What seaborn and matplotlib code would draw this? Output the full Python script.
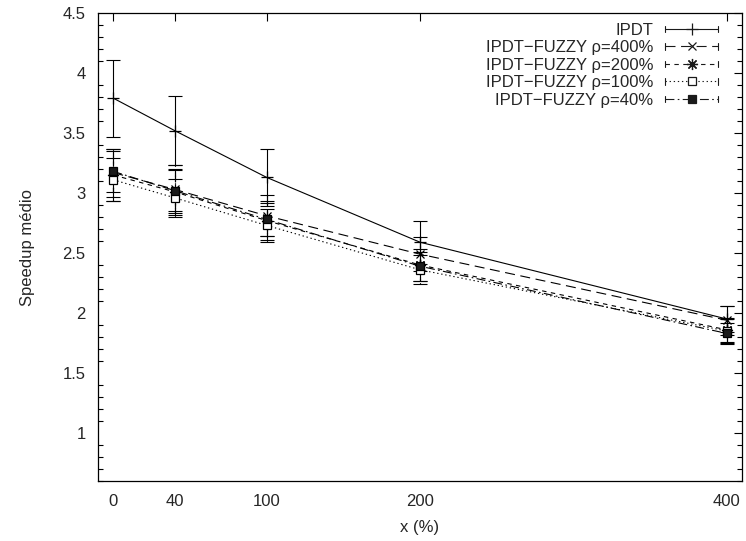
import matplotlib
matplotlib.use("Agg")
import numpy as np
import pandas as pd
import matplotlib.pyplot as plt
import seaborn as sns
from matplotlib.lines import Line2D
from matplotlib.legend_handler import HandlerBase
from matplotlib.ticker import MultipleLocator, FixedLocator

# ---- data ----
x_vals = [0, 40, 100, 200, 400]
x_labels = ["0", "40", "100", "200", "400"]
series_names = ["IPDT", "IPDT\u2212FUZZY \u03c1=400%", "IPDT\u2212FUZZY \u03c1=200%",
                "IPDT\u2212FUZZY \u03c1=100%", "IPDT\u2212FUZZY \u03c1=40%"]
ipdt = [3.79, 3.52, 3.13, 2.59, 1.95]
ipdt_err = [0.32, 0.29, 0.24, 0.18, 0.11]
fz400 = [3.17, 3.03, 2.81, 2.49, 1.94]
fz400_err = [0.20, 0.20, 0.17, 0.14, 0.12]
fz200 = [3.15, 3.01, 2.77, 2.40, 1.86]
fz200_err = [0.22, 0.19, 0.16, 0.13, 0.10]
fz100 = [3.11, 2.96, 2.73, 2.36, 1.85]
fz100_err = [0.18, 0.16, 0.14, 0.12, 0.10]
fz40 = [3.18, 3.02, 2.78, 2.39, 1.83]
fz40_err = [0.17, 0.17, 0.14, 0.12, 0.09]
y_ticks = [1, 1.5, 2, 2.5, 3, 3.5, 4, 4.5]
y_labels = ["1", "1.5", "2", "2.5", "3", "3.5", "4", "4.5"]

values = [ipdt, fz400, fz200, fz100, fz40]
errors = [ipdt_err, fz400_err, fz200_err, fz100_err, fz40_err]

rows = []
for name, ys, es in zip(series_names, values, errors):
    for xv, yv, ev in zip(x_vals, ys, es):
        rows.append({"x": xv, "speedup": yv, "err": ev, "series": name})
df = pd.DataFrame(rows)

# ---- styles ----
LW = 0.8
FS = 12
styles = [
    dict(ls="-", marker="+", mfc="k", ms=8),
    dict(ls=(0, (9, 5)), marker="x", mfc="k", ms=6),
    dict(ls=(0, (4, 4)), marker=(8, 2, 0), mfc="k", ms=8),
    dict(ls=(0, (1.2, 2.5)), marker="s", mfc="white", ms=6),
    dict(ls=(0, (8, 3, 1.5, 3)), marker="s", mfc="k", ms=6),
]

sns.set_theme(style="white")
plt.rcParams["font.family"] = ["Liberation Sans", "DejaVu Sans"]
plt.rcParams["axes.linewidth"] = 0.9
plt.rcParams["axes.edgecolor"] = "black"

fig = plt.figure(figsize=(7.46, 5.41), dpi=100)
ax = fig.add_axes([98 / 746, 1 - 481 / 541, (742 - 98) / 746, (481 - 13) / 541])

for name, st in zip(series_names, styles):
    sub = df[df["series"] == name]
    sns.lineplot(data=sub, x="x", y="speedup", ax=ax, color="black", lw=LW,
                 linestyle=st["ls"], marker=st["marker"], markersize=st["ms"],
                 markerfacecolor=st["mfc"], markeredgecolor="black",
                 markeredgewidth=0.9, errorbar=None, legend=False, zorder=3)
    cont = ax.errorbar(sub["x"], sub["speedup"], yerr=sub["err"], fmt="none",
                       ecolor="black", elinewidth=LW, capsize=5, capthick=LW,
                       zorder=2)
    for lc in cont[2]:
        lc.set_linestyle(st["ls"])

ax.set_xlim(-10, 410)
ax.set_ylim(0.6, 4.5)
ax.xaxis.set_major_locator(FixedLocator(x_vals))
ax.set_xticklabels(x_labels)
ax.yaxis.set_major_locator(FixedLocator(y_ticks))
ax.set_yticklabels(y_labels)
ax.yaxis.set_minor_locator(MultipleLocator(0.1))
ax.tick_params(axis="both", which="major", direction="in", length=6, width=0.8,
               top=True, right=True, labelsize=FS, color="black")
ax.tick_params(axis="y", which="minor", direction="in", length=3.5, width=0.8,
               left=True, right=True, color="black")
ax.tick_params(axis="y", which="major", pad=9)
ax.tick_params(axis="x", which="major", pad=9)
for s in ax.spines.values():
    s.set_visible(True)
    s.set_color("black")

ax.set_xlabel("x (%)", fontsize=FS, labelpad=8)
ax.set_ylabel("Speedup m\u00e9dio", fontsize=FS, labelpad=20)


class ErrHandler(HandlerBase):
    def create_artists(self, legend, orig_handle, xdescent, ydescent, width,
                       height, fontsize, trans):
        y = height / 2 - ydescent
        x0 = -xdescent
        x1 = width - xdescent
        line = Line2D([x0, x1], [y, y], color="k", lw=LW)
        line.set_linestyle(orig_handle._style_ls)
        mk = Line2D([(x0 + x1) / 2], [y], marker=orig_handle.get_marker(),
                    markersize=orig_handle.get_markersize(),
                    markerfacecolor=orig_handle.get_markerfacecolor(),
                    markeredgecolor="k", markeredgewidth=0.9, linestyle="none")
        c1 = Line2D([x0, x0], [y - 2.5, y + 2.5], color="k", lw=LW)
        c2 = Line2D([x1, x1], [y - 2.5, y + 2.5], color="k", lw=LW)
        arts = [line, c1, c2, mk]
        for a in arts:
            a.set_transform(trans)
        return arts


handles = []
for st in styles:
    h = Line2D([], [], color="k", marker=st["marker"], markersize=st["ms"],
               markerfacecolor=st["mfc"])
    h._style_ls = st["ls"]
    handles.append(h)

leg = ax.legend(handles, series_names, loc="upper right",
                bbox_to_anchor=(0.963, 0.979), frameon=False, markerfirst=False,
                fontsize=FS, handlelength=3.2, handletextpad=0.7,
                labelspacing=0.15, borderpad=0, borderaxespad=0,
                handler_map={Line2D: ErrHandler()})

fig.savefig("out.png", dpi=100)
